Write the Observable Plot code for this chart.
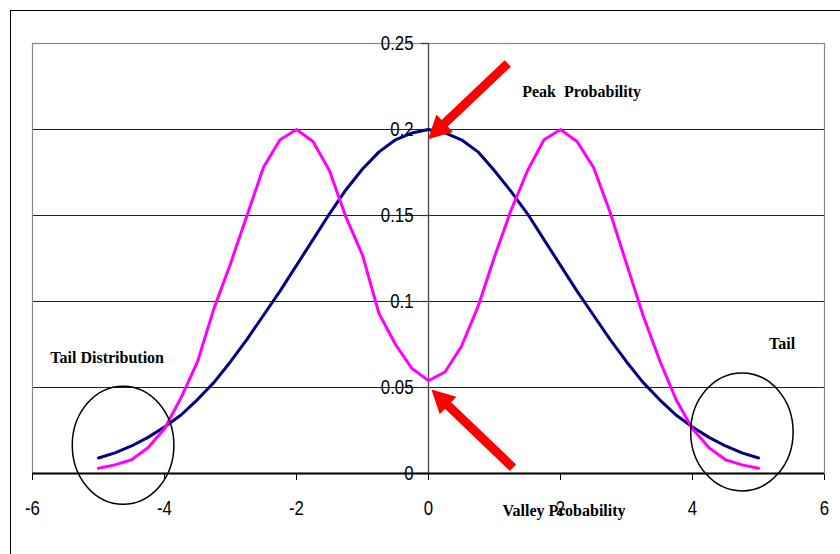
<!DOCTYPE html>
<html><head><meta charset="utf-8">
<script src="https://cdn.jsdelivr.net/npm/d3@7"></script>
<script src="https://cdn.jsdelivr.net/npm/@observablehq/plot@0.6"></script>
<style>
html,body{margin:0;padding:0;background:#fff;overflow:hidden;}
#wrap{position:relative;width:840px;height:554px;}
#frame{position:absolute;left:10px;top:10px;width:1000px;height:1000px;border:1px solid #000;pointer-events:none;}
</style></head><body><div id="wrap"><div id="frame"></div></div>
<script>
const xTicks = [-6, -4, -2, 0, 2, 4, 6];
const xTickLabels = ["-6", "-4", "-2", "0", "2", "4", "6"];
const yTicks = [0, 0.05, 0.1, 0.15, 0.2, 0.25];
const yTickLabels = ["0", "0.05", "0.1", "0.15", "0.2", "0.25"];

const xs = [-5, -4.75, -4.5, -4.25, -4, -3.75, -3.5, -3.25, -3, -2.75, -2.5, -2.25, -2, -1.75, -1.5, -1.25, -1, -0.75, -0.5, -0.25,
  0, 0.25, 0.5, 0.75, 1, 1.25, 1.5, 1.75, 2, 2.25, 2.5, 2.75, 3, 3.25, 3.5, 3.75, 4, 4.25, 4.5, 4.75, 5];
const blueSeries = [0.009, 0.012, 0.016, 0.021, 0.027, 0.034, 0.043, 0.053, 0.065, 0.078, 0.092, 0.106, 0.121, 0.136, 0.151, 0.165, 0.177, 0.187, 0.194, 0.198,
  0.200, 0.198, 0.194, 0.187, 0.176, 0.164, 0.151, 0.136, 0.121, 0.106, 0.092, 0.078, 0.065, 0.053, 0.043, 0.034, 0.027, 0.021, 0.016, 0.012, 0.009];
const magentaSeries = [0.003, 0.005, 0.008, 0.015, 0.026, 0.044, 0.065, 0.096, 0.122, 0.150, 0.178, 0.194, 0.200, 0.193, 0.176, 0.149, 0.127, 0.093, 0.075, 0.061,
  0.054, 0.059, 0.074, 0.097, 0.126, 0.153, 0.176, 0.194, 0.200, 0.193, 0.178, 0.152, 0.122, 0.092, 0.066, 0.043, 0.026, 0.015, 0.008, 0.005, 0.003];

const annotationLabels = ["Peak\u00a0 Probability", "Tail Distribution", "Tail", "Valley Probability"];
const annotationX = [1.42, -5.73, 5.16, 1.12];
const annotationY = [0.2216, 0.0673, 0.0755, -0.0218];
const annotations = annotationLabels.map((label, i) => ({x: annotationX[i], y: annotationY[i], label}));

const arrows = [
  {x1: 1.208, y1: 0.2381, x2: 0.0, y2: 0.1941},
  {x1: 1.288, y1: 0.0031, x2: 0.052, y2: 0.0485}
];
const ellipses = [
  {cx: -4.62, cy: 0.0161, rx: 0.77, ry: 0.0343},
  {cx: 4.756, cy: 0.0239, rx: 0.776, ry: 0.0343}
];

const blueData = xs.map((x, i) => ({x, y: blueSeries[i]}));
const magentaData = xs.map((x, i) => ({x, y: magentaSeries[i]}));

const NS = "http://www.w3.org/2000/svg";
function shapes(index, scales) {
  const sx = scales.x, sy = scales.y;
  const g = document.createElementNS(NS, "g");
  for (const e of ellipses) {
    const el = document.createElementNS(NS, "ellipse");
    el.setAttribute("cx", sx(e.cx));
    el.setAttribute("cy", sy(e.cy));
    el.setAttribute("rx", Math.abs(sx(e.cx + e.rx) - sx(e.cx)));
    el.setAttribute("ry", Math.abs(sy(e.cy) - sy(e.cy + e.ry)));
    el.setAttribute("fill", "none");
    el.setAttribute("stroke", "#000");
    el.setAttribute("stroke-width", 1.5);
    g.appendChild(el);
  }
  const w = 4.5, L = 23, H = 12;
  for (const a of arrows) {
    const S = [sx(a.x1), sy(a.y1)], T = [sx(a.x2), sy(a.y2)];
    const dx = T[0] - S[0], dy = T[1] - S[1], len = Math.hypot(dx, dy);
    const u = [dx / len, dy / len], n = [-u[1], u[0]];
    const B = [T[0] - u[0] * L, T[1] - u[1] * L];
    const pts = [
      [S[0] + n[0] * w, S[1] + n[1] * w],
      [B[0] + n[0] * w, B[1] + n[1] * w],
      [B[0] + n[0] * H, B[1] + n[1] * H],
      T,
      [B[0] - n[0] * H, B[1] - n[1] * H],
      [B[0] - n[0] * w, B[1] - n[1] * w],
      [S[0] - n[0] * w, S[1] - n[1] * w]
    ];
    const p = document.createElementNS(NS, "polygon");
    p.setAttribute("points", pts.map(q => q.join(",")).join(" "));
    p.setAttribute("fill", "#ff0000");
    g.appendChild(p);
  }
  return g;
}

const tickFont = "'Liberation Sans', Arial, sans-serif";

const chart = Plot.plot({
  width: 840,
  height: 554,
  marginLeft: 32,
  marginRight: 16,
  marginTop: 43,
  marginBottom: 81,
  style: {fontFamily: tickFont, fontSize: "21px", color: "#000", background: "transparent", overflow: "visible"},
  x: {domain: [-6, 6], ticks: xTicks, tickFormat: d => xTickLabels[xTicks.indexOf(d)], tickSize: 7, tickPadding: 20, label: null},
  y: {domain: [0, 0.25], axis: null},
  marks: [
    Plot.ruleY(yTicks.slice(1, -1), {stroke: "#222", strokeWidth: 1}),
    Plot.frame({stroke: "#888", strokeWidth: 1.2}),
    Plot.ruleX([0], {y1: 0, y2: 0.25, stroke: "#444", strokeWidth: 1.3}),
    Plot.ruleY(yTicks, {x1: -0.106, x2: 0, stroke: "#333", strokeWidth: 1.2}),
    Plot.ruleY([0], {stroke: "#000", strokeWidth: 2}),
    Plot.text(yTicks, {x: 0, y: d => d, text: (d, i) => yTickLabels[i], textAnchor: "end", dx: -15, fontSize: 21, fontFamily: tickFont}),
    Plot.line(blueData, {x: "x", y: "y", stroke: "#000080", strokeWidth: 3}),
    Plot.line(magentaData, {x: "x", y: "y", stroke: "#ff00ff", strokeWidth: 3}),
    shapes,
    Plot.text(annotations, {x: "x", y: "y", text: "label", textAnchor: "start", fontFamily: "'Liberation Serif', 'Times New Roman', serif", fontWeight: "bold", fontSize: 16, fill: "#000"})
  ]
});

// condense the tick-label glyphs horizontally (the reference uses a narrow face)
const squeeze = 0.8;
chart.querySelectorAll("text").forEach(el => {
  if (annotationLabels.includes(el.textContent)) return;
  const t = el.getAttribute("transform") || "";
  const xa = el.getAttribute("x");
  if (xa != null && xa !== "") el.setAttribute("x", parseFloat(xa) / squeeze);
  el.setAttribute("transform", (t + ` scale(${squeeze},1)`).trim());
});

chart.style.position = "absolute";
chart.style.left = "0";
chart.style.top = "0";
document.getElementById("wrap").insertBefore(chart, document.getElementById("frame"));
</script>
</body></html>
